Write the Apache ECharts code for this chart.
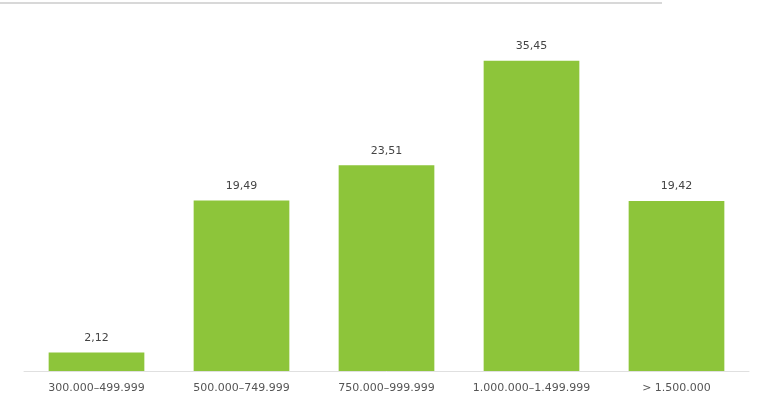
<!DOCTYPE html>
<html><head><meta charset="utf-8">
<script src="https://cdn.jsdelivr.net/npm/echarts@6/dist/echarts.min.js"></script>
<style>html,body{margin:0;padding:0;background:#fff}#c{width:760px;height:406px}</style>
</head><body><div id="c"></div>
<script>
const categories = ["300.000–499.999", "500.000–749.999", "750.000–999.999", "1.000.000–1.499.999", "> 1.500.000"];
const values = [2.12, 19.49, 23.51, 35.45, 19.42];
const valueLabels = ["2,12", "19,49", "23,51", "35,45", "19,42"];

const chart = echarts.init(document.getElementById('c'));
chart.setOption({
  animation: false,
  backgroundColor: '#ffffff',
  grid: {left: 24, right: 11, top: 21, bottom: 35},
  graphic: [{type: 'line', shape: {x1: 0, y1: 3, x2: 662, y2: 3}, style: {stroke: '#d8d8d8', lineWidth: 2}}],
  xAxis: {
    type: 'category', data: categories,
    axisLine: {lineStyle: {color: '#e0e0e0'}},
    axisTick: {show: false},
    axisLabel: {interval: 0, hideOverlap: false, color: '#555', fontFamily: 'DejaVu Sans', fontSize: 11, margin: 12}
  },
  yAxis: {type: 'value', min: 0, max: 40, show: false, splitLine: {show: false}},
  series: [{
    type: 'bar', data: values, barCategoryGap: '34%',
    itemStyle: {color: '#8dc53a'},
    label: {show: true, position: 'top', distance: 9, color: '#444', fontFamily: 'DejaVu Sans', fontSize: 11,
      formatter: p => valueLabels[p.dataIndex]}
  }]
});
</script></body></html>
